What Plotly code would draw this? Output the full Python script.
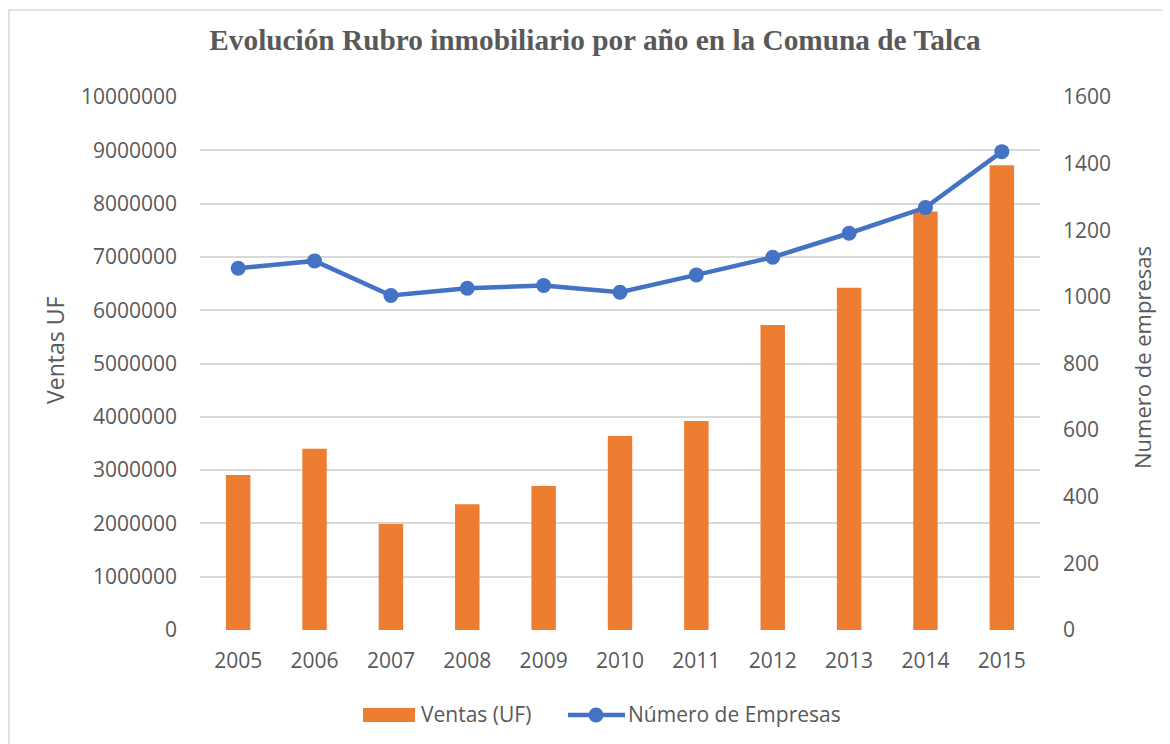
import plotly.graph_objects as go

years = ["2005", "2006", "2007", "2008", "2009", "2010", "2011", "2012", "2013", "2014", "2015"]
ventas_uf = [2910000, 3400000, 1990000, 2360000, 2700000, 3640000, 3920000, 5720000, 6420000, 7850000, 8720000]
num_empresas = [1086, 1108, 1004, 1026, 1034, 1014, 1066, 1119, 1191, 1268, 1436]

left_ticks = [i * 1000000 for i in range(11)]
right_ticks = [i * 200 for i in range(9)]

GREY = "#595959"
GRID = "#D9D9D9"
ORANGE = "#ED7D31"
BLUE = "#4472C4"
FONT = "Open Sans"

# the page puts the figure 8px in from the top left, plot area on screen: x 200..1040, y 97..630
def px(sx):
    return (sx - 200) / 840

def py(sy):
    return (630 - sy) / 533

fig = go.Figure()

fig.add_trace(go.Bar(
    x=years, y=ventas_uf, name="Ventas (UF)",
    marker=dict(color=ORANGE, line=dict(width=0)),
    yaxis="y", showlegend=False,
))

fig.add_trace(go.Scatter(
    x=years, y=num_empresas, name="Número de Empresas",
    mode="lines+markers",
    line=dict(color=BLUE, width=4.5),
    marker=dict(color=BLUE, size=15),
    yaxis="y2", showlegend=False,
))

shapes = [
    # chart border
    dict(type="rect", xref="paper", yref="paper",
         x0=px(9), x1=px(1180), y0=py(760), y1=py(10),
         line=dict(color=GRID, width=1.5), fillcolor="rgba(0,0,0,0)", layer="above"),
    # legend symbols
    dict(type="rect", xref="paper", yref="paper",
         x0=px(363), x1=px(415), y0=py(722), y1=py(708),
         line=dict(width=0), fillcolor=ORANGE),
    dict(type="line", xref="paper", yref="paper",
         x0=px(568), x1=px(625), y0=py(715), y1=py(715),
         line=dict(color=BLUE, width=4.5)),
    dict(type="circle", xref="paper", yref="paper",
         x0=px(588.5), x1=px(603.5), y0=py(722.5), y1=py(707.5),
         line=dict(width=0), fillcolor=BLUE),
]

annotations = [
    dict(text="Ventas UF", xref="paper", yref="paper", x=px(55), y=py(351),
         textangle=-90, showarrow=False, xanchor="center", yanchor="middle",
         font=dict(family=FONT, size=23, color=GREY)),
    dict(text="Numero de empresas", xref="paper", yref="paper", x=px(1142), y=py(358),
         textangle=-90, showarrow=False, xanchor="center", yanchor="middle",
         font=dict(family=FONT, size=22, color=GREY)),
    dict(text="Ventas (UF)", xref="paper", yref="paper", x=px(419), y=py(714),
         showarrow=False, xanchor="left", yanchor="middle",
         font=dict(family=FONT, size=21, color=GREY)),
    dict(text="Número de Empresas", xref="paper", yref="paper", x=px(626), y=py(714),
         showarrow=False, xanchor="left", yanchor="middle",
         font=dict(family=FONT, size=21, color=GREY)),
]

fig.update_layout(
    width=1162, height=736,
    margin=dict(l=192, r=130, t=89, b=114),
    paper_bgcolor="white", plot_bgcolor="white",
    font=dict(family=FONT, size=21, color=GREY),
    title=dict(
        text="<b>Evolución Rubro inmobiliario por año en la Comuna de Talca</b>",
        x=587 / 1162, xanchor="center", y=1 - 32 / 736, yanchor="middle",
        font=dict(family="Liberation Serif", size=29.3, color=GREY),
    ),
    bargap=0.68,
    showlegend=False,
    shapes=shapes,
    annotations=annotations,
    xaxis=dict(
        type="category", range=[-0.5, len(years) - 0.5],
        showgrid=False, showline=False, zeroline=False,
        ticks="", ticklabelstandoff=16,
        tickfont=dict(family=FONT, size=21, color=GREY),
    ),
    yaxis=dict(
        range=[0, 10000000], tickvals=left_ticks, tickformat="d",
        showgrid=True, gridcolor=GRID, gridwidth=1.5,
        zeroline=False, showline=False, ticks="", ticklabelstandoff=22,
        tickfont=dict(family=FONT, size=21, color=GREY),
    ),
    yaxis2=dict(
        range=[0, 1600], tickvals=right_ticks, overlaying="y", side="right",
        showgrid=False, zeroline=False, showline=False, ticks="", ticklabelstandoff=22,
        tickfont=dict(family=FONT, size=21, color=GREY),
    ),
)

fig.write_html("out.html")
